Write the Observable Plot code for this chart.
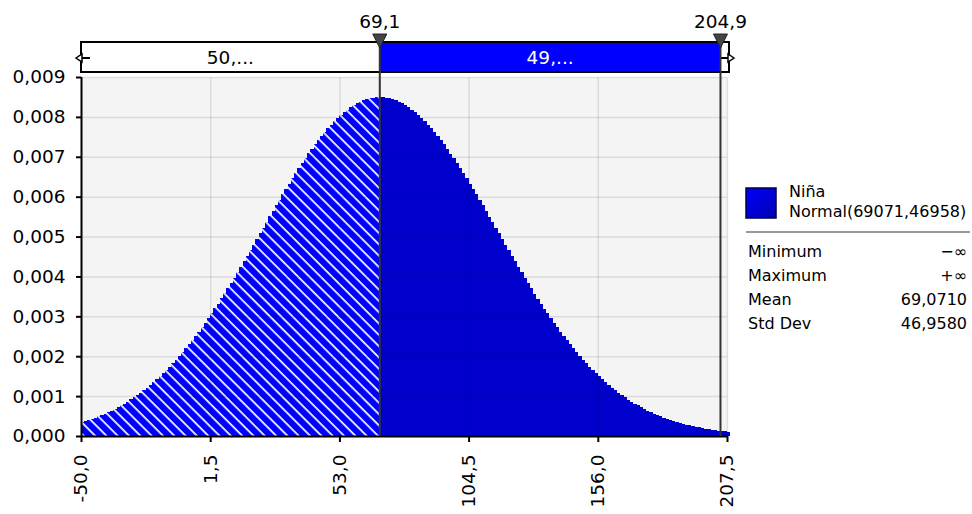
<!DOCTYPE html>
<html><head><meta charset="utf-8">
<script src="https://cdn.jsdelivr.net/npm/d3@7"></script>
<script src="https://cdn.jsdelivr.net/npm/@observablehq/plot@0.6"></script>
<style>
body{margin:0;background:#fff;font-family:"DejaVu Sans",Verdana,sans-serif;}
#wrap{position:relative;width:972px;height:514px;}
</style></head><body><div id="wrap"></div>
<script>
// ---- data ----
const binStart = -50;
const binWidth = 1.2875;
const densities = [
0.0003532,0.0003784,0.0004051,0.0004332,0.0004630,0.0004945,0.0005277,0.0005628,0.0005997,0.0006385,
0.0006793,0.0007222,0.0007672,0.0008146,0.0008640,0.0009158,0.0009700,0.0010266,0.0010857,0.0011475,
0.0012117,0.0012786,0.0013481,0.0014203,0.0014953,0.0015734,0.0016540,0.0017373,0.0018236,0.0019127,
0.0020046,0.0020997,0.0021973,0.0022978,0.0024009,0.0025069,0.0026156,0.0027273,0.0028412,0.0029578,
0.0030767,0.0031981,0.0033216,0.0034480,0.0035759,0.0037056,0.0038374,0.0039707,0.0041058,0.0042425,
0.0043802,0.0045188,0.0046583,0.0047987,0.0049394,0.0050810,0.0052221,0.0053631,0.0055039,0.0056443,
0.0057837,0.0059224,0.0060596,0.0061953,0.0063294,0.0064617,0.0065913,0.0067194,0.0068442,0.0069657,
0.0070844,0.0071997,0.0073115,0.0074198,0.0075233,0.0076228,0.0077179,0.0078083,0.0078936,0.0079744,
0.0080494,0.0081192,0.0081834,0.0082420,0.0082947,0.0083416,0.0083823,0.0084170,0.0084454,0.0084675,
0.0084834,0.0084929,0.0084960,0.0084927,0.0084831,0.0084671,0.0084448,0.0084160,0.0083812,0.0083403,
0.0082935,0.0082405,0.0081818,0.0081172,0.0080474,0.0079721,0.0078916,0.0078060,0.0077155,0.0076201,
0.0075204,0.0074165,0.0073086,0.0071969,0.0070815,0.0069623,0.0068404,0.0067156,0.0065881,0.0064582,
0.0063261,0.0061915,0.0060558,0.0059186,0.0057801,0.0056406,0.0055004,0.0053591,0.0052180,0.0050769,
0.0049357,0.0047950,0.0046548,0.0045147,0.0043761,0.0042386,0.0041022,0.0039673,0.0038339,0.0037018,
0.0035720,0.0034442,0.0033184,0.0031948,0.0030736,0.0029543,0.0028378,0.0027239,0.0026127,0.0025041,
0.0023983,0.0022948,0.0021944,0.0020968,0.0020022,0.0019103,0.0018214,0.0017349,0.0016515,0.0015711,
0.0014933,0.0014184,0.0013462,0.0012765,0.0012097,0.0011457,0.0010841,0.0010251,0.0009685,0.0009143,
0.0008626,0.0008132,0.0007660,0.0007211,0.0006782,0.0006373,0.0005985,0.0005617,0.0005268,0.0004936,
0.0004622,0.0004324,0.0004042,0.0003776,0.0003526,0.0003290,0.0003066,0.0002856,0.0002658,0.0002472,
0.0002298,0.0002134,0.0001980,0.0001835,0.0001701,0.0001574,0.0001457,0.0001347,0.0001244,0.0001148,
0.0001059
];
const xDomain = [-50, 207.5];
const xTicks = [-50, 1.5, 53, 104.5, 156, 207.5];
const yTicks = [0, 0.001, 0.002, 0.003, 0.004, 0.005, 0.006, 0.007, 0.008, 0.009];
const markers = [69.1, 204.9];
const markerLabels = ["69,1", "204,9"];
const regionLabels = ["50,...", "49,..."];
const legendTitle = "Niña";
const legendSub = "Normal(69071,46958)";
const statNames = ["Minimum", "Maximum", "Mean", "Std Dev"];
const statValues = ["−∞", "+∞", "69,0710", "46,9580"];

// ---- derived tables ----
const bins = densities.map((d, i) => ({x1: binStart + i * binWidth, x2: binStart + (i + 1) * binWidth, y: d}));
const hatched = bins.filter(b => b.x1 < markers[0]).map(b => ({...b, x2: Math.min(b.x2, markers[0])}));

const fmt1 = d => d.toFixed(1).replace(".", ",");
const fmt3 = d => d.toFixed(3).replace(".", ",");
const FONT = "DejaVu Sans, Verdana, sans-serif";

const plot = Plot.plot({
  width: 972, height: 514,
  marginLeft: 81, marginRight: 245, marginTop: 77, marginBottom: 78,
  style: {fontFamily: FONT, color: "#000", background: "transparent"},
  x: {domain: xDomain},
  y: {domain: [0, 0.009]},
  marks: [
    Plot.frame({fill: "#f4f4f4"}),
    Plot.rectY(bins, {x1: "x1", x2: "x2", y: "y", fill: "#0000cd", shapeRendering: "crispEdges"}),
    Plot.rectY(hatched, {x1: "x1", x2: "x2", y: "y", fill: "url(#hatch)", shapeRendering: "crispEdges"}),
    Plot.ruleX(xTicks.slice(1), {stroke: "#000", strokeOpacity: 0.1, strokeWidth: 1.5}),
    Plot.ruleY(yTicks.slice(1), {stroke: "#000", strokeOpacity: 0.1, strokeWidth: 1.5}),
    Plot.axisY({ticks: yTicks, tickFormat: fmt3, tickSize: 5, tickPadding: 11, fontSize: 18.5, strokeWidth: 2, label: null}),
    Plot.axisX({ticks: xTicks, tickFormat: fmt1, tickRotate: -90, tickSize: 6, tickPadding: 12, fontSize: 18.5, strokeWidth: 2, label: null}),
    Plot.ruleY([0], {stroke: "#000", strokeWidth: 2}),
    Plot.ruleX([xDomain[0]], {stroke: "#000", strokeWidth: 2})
  ]
});

document.getElementById("wrap").appendChild(plot);
const svg = d3.select(plot);
const X = plot.scale("x").apply;
const Y = plot.scale("y").apply;

// hatch pattern
const defs = svg.insert("defs", ":first-child");
const pat = defs.append("pattern").attr("id", "hatch").attr("patternUnits", "userSpaceOnUse")
  .attr("width", 8).attr("height", 8).attr("patternTransform", "rotate(45)");
pat.append("rect").attr("width", 8).attr("height", 8).attr("fill", "#0000ff");
pat.append("rect").attr("width", 8).attr("height", 1.7).attr("fill", "#ffffff");

// top range bar
const g = svg.append("g");
const barTop = 42, barBot = 72, barMid = 58;
const xL = X(xDomain[0]), xM = X(markers[0]), xR = X(markers[1]), xEnd = X(xDomain[1]) + 2;
g.append("rect").attr("x", xL).attr("y", barTop).attr("width", xM - xL).attr("height", barBot - barTop).attr("fill", "#fff");
g.append("rect").attr("x", xM).attr("y", barTop).attr("width", xR - xM).attr("height", barBot - barTop).attr("fill", "#0000ff");
g.append("rect").attr("x", xL).attr("y", barTop).attr("width", xEnd - xL).attr("height", barBot - barTop)
  .attr("fill", "none").attr("stroke", "#000").attr("stroke-width", 2);
g.append("text").attr("x", (xL + xM) / 2).attr("y", 64).attr("text-anchor", "middle")
  .attr("font-size", 18.5).attr("font-family", FONT).attr("fill", "#000").text(regionLabels[0]);
g.append("text").attr("x", (xM + xR) / 2).attr("y", 64).attr("text-anchor", "middle")
  .attr("font-size", 18.5).attr("font-family", FONT).attr("fill", "#fff").text(regionLabels[1]);
// end arrows
g.append("line").attr("x1", xL - 1).attr("x2", xL + 9).attr("y1", barMid).attr("y2", barMid).attr("stroke", "#000").attr("stroke-width", 2);
g.append("path").attr("d", `M${xL - 5},${barMid} L${xL + 1},${barMid - 4} L${xL + 1},${barMid + 4} Z`)
  .attr("fill", "#fff").attr("stroke", "#000").attr("stroke-width", 1.5);
g.append("line").attr("x1", xR).attr("x2", xEnd).attr("y1", barMid).attr("y2", barMid).attr("stroke", "#000").attr("stroke-width", 2);
g.append("path").attr("d", `M${xEnd + 5},${barMid} L${xEnd - 1},${barMid - 4} L${xEnd - 1},${barMid + 4} Z`)
  .attr("fill", "#fff").attr("stroke", "#000").attr("stroke-width", 1.5);
// marker lines, triangles, labels
markers.forEach((m, i) => {
  const x = X(m);
  g.append("line").attr("x1", x).attr("x2", x).attr("y1", barTop).attr("y2", Y(0))
    .attr("stroke", "#333").attr("stroke-width", 2);
  g.append("path").attr("d", `M${x - 7},${34} L${x + 7},${34} L${x},${48} Z`)
    .attr("fill", "#444").attr("stroke", "#222").attr("stroke-width", 1);
  g.append("text").attr("x", x).attr("y", 28).attr("text-anchor", "middle")
    .attr("font-size", 18.5).attr("font-family", FONT).attr("fill", "#000").text(markerLabels[i]);
});

// legend
const lg = svg.append("g").attr("font-family", FONT).attr("font-size", 16).attr("fill", "#000").attr("text-anchor", "start");
const grad = defs.append("linearGradient").attr("id", "sw").attr("x1", 0).attr("y1", 0).attr("x2", 1).attr("y2", 1);
grad.append("stop").attr("offset", "0%").attr("stop-color", "#0000ff");
grad.append("stop").attr("offset", "100%").attr("stop-color", "#0000b0");
lg.append("rect").attr("x", 746).attr("y", 188).attr("width", 30).attr("height", 30)
  .attr("fill", "url(#sw)").attr("stroke", "#000044").attr("stroke-width", 1.5);
lg.append("text").attr("x", 789).attr("y", 197).attr("text-anchor", "start").text(legendTitle);
lg.append("text").attr("x", 789).attr("y", 217).attr("text-anchor", "start").text(legendSub);
lg.append("line").attr("x1", 746).attr("x2", 970).attr("y1", 232).attr("y2", 232).attr("stroke", "#999").attr("stroke-width", 2);
statNames.forEach((s, i) => {
  const yy = 257 + i * 24;
  lg.append("text").attr("x", 748).attr("y", yy).attr("text-anchor", "start").text(s);
  lg.append("text").attr("x", 967).attr("y", yy).attr("text-anchor", "end").text(statValues[i]);
});
</script></body></html>
